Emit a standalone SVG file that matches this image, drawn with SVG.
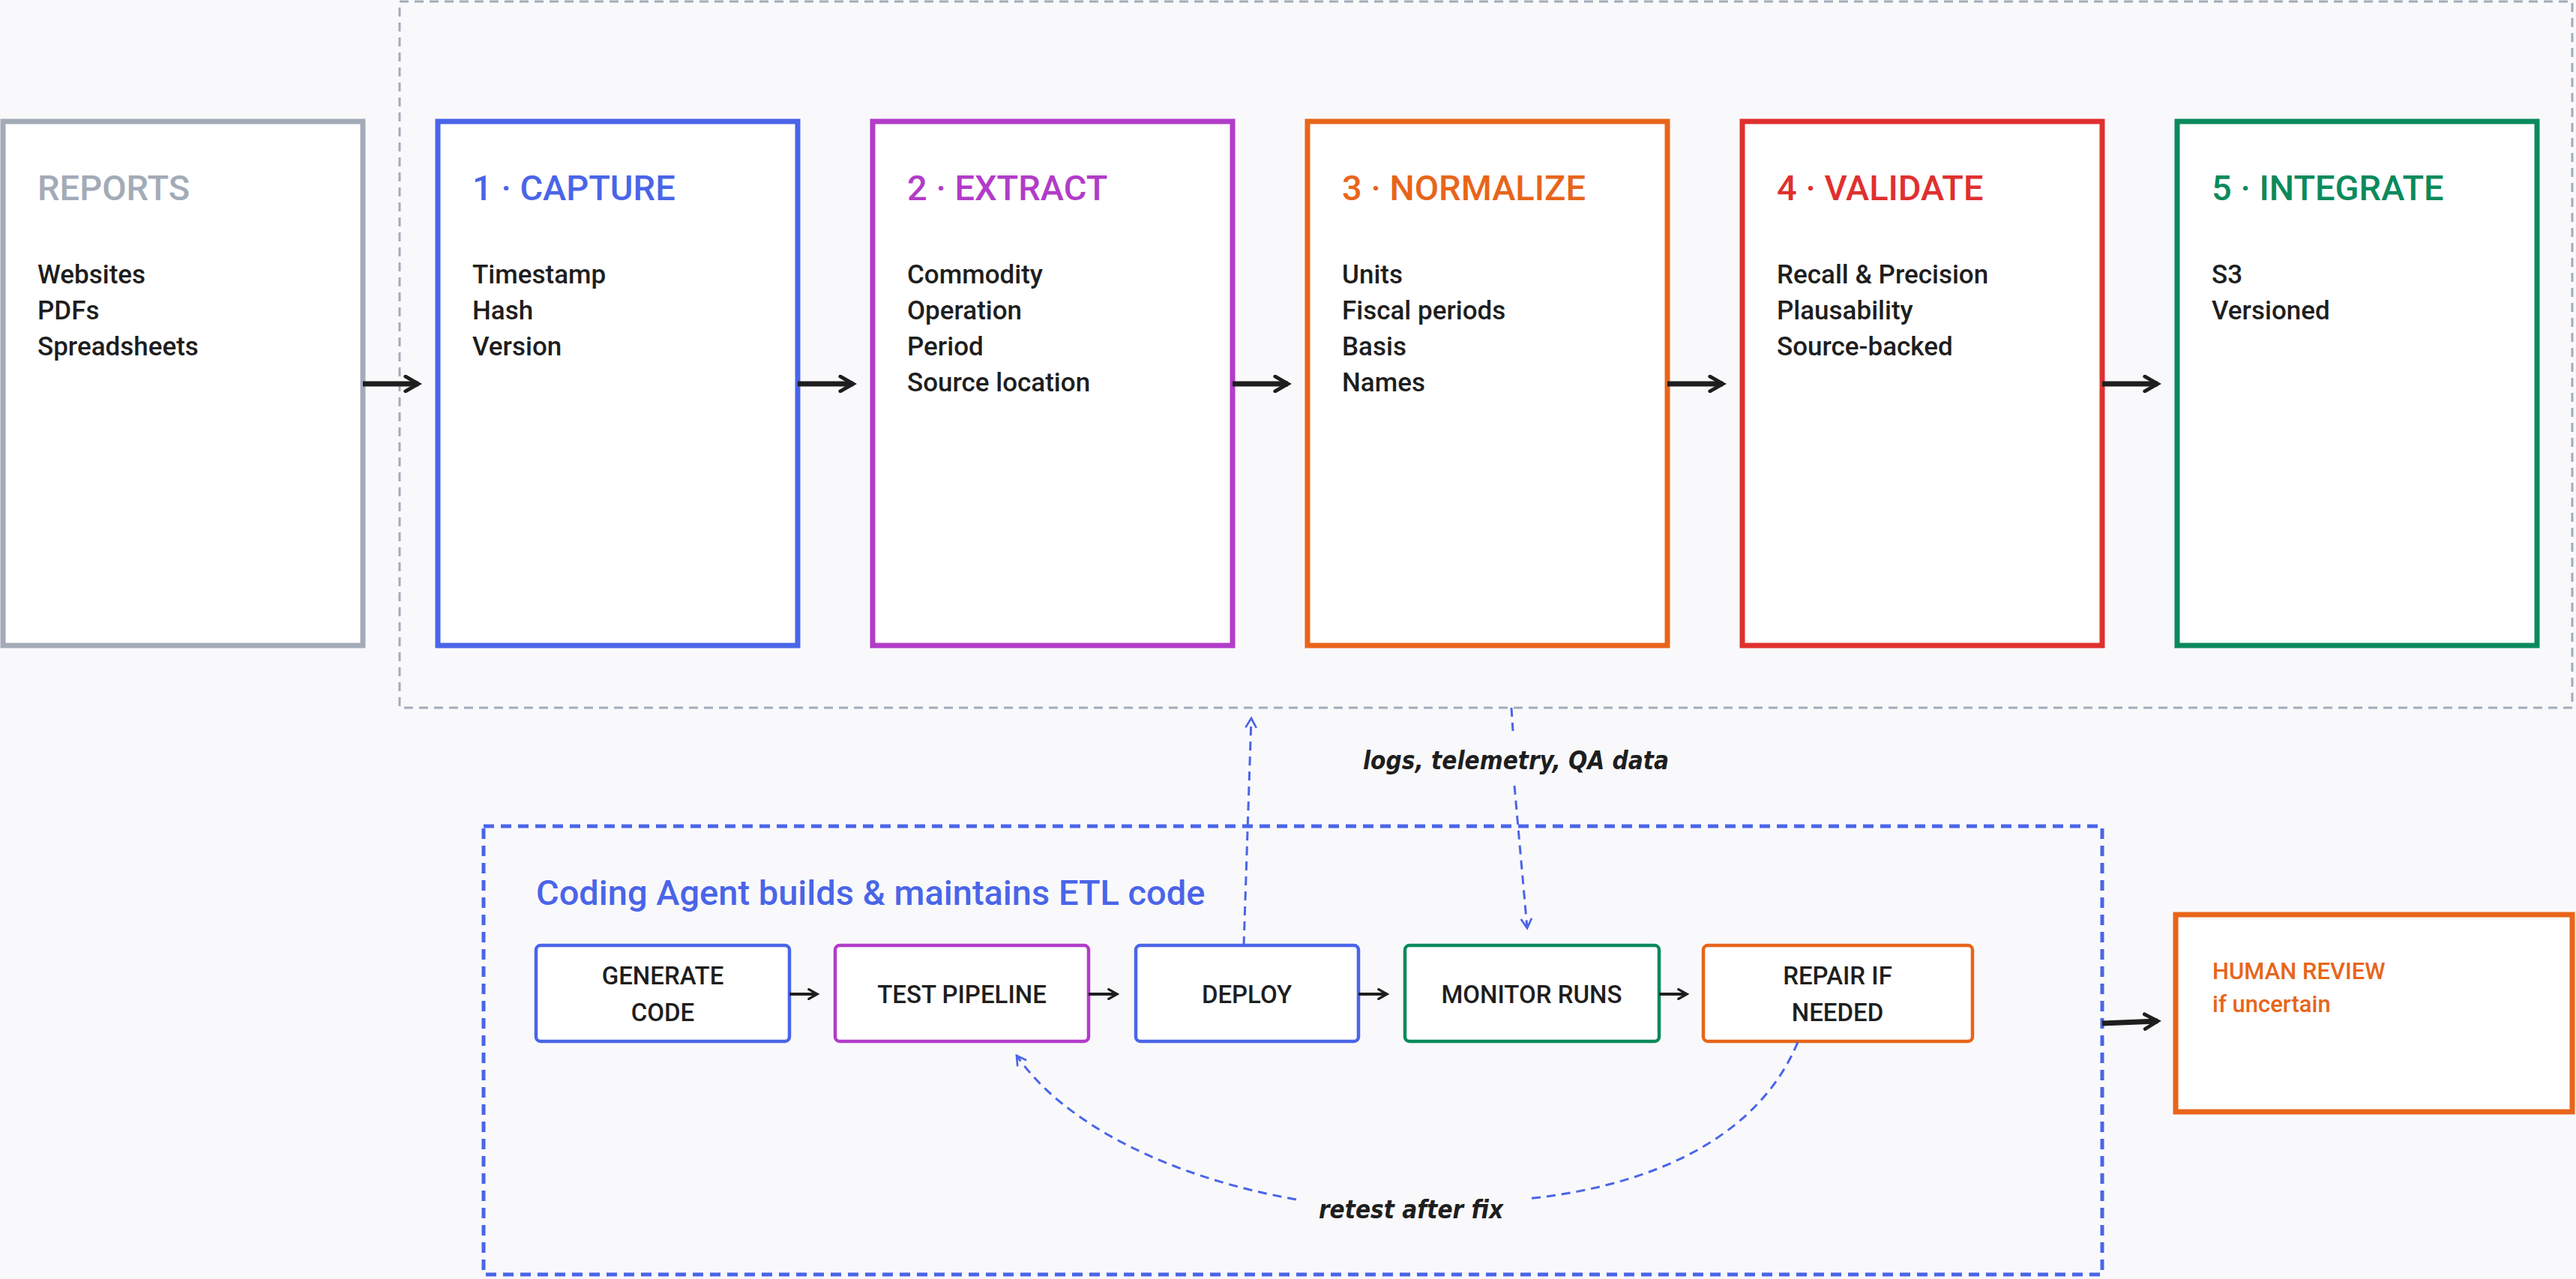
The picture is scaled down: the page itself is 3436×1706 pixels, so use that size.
<svg xmlns="http://www.w3.org/2000/svg" width="3436" height="1706" viewBox="0 0 3436 1706">
<defs>
<style>
.stage{fill:#fff;stroke-width:7}
.h{font-family:Roboto,"Liberation Sans",sans-serif;font-weight:500;font-size:47px}
.b{font-family:Roboto,"Liberation Sans",sans-serif;font-weight:500;font-size:35px;fill:#1e1e1e}
.sm{fill:#fff;stroke-width:4.5}
.st{font-family:Roboto,"Liberation Sans",sans-serif;font-weight:500;font-size:33px;fill:#1e1e1e;text-anchor:middle}
.hand{font-family:"DejaVu Sans Condensed","DejaVu Sans",sans-serif;font-weight:bold;font-style:oblique;font-size:33px;fill:#1e1e1e;text-anchor:middle}
.arr{stroke:#1e1e1e;stroke-width:7;fill:none;marker-end:url(#ah)}
.arrs{stroke:#1e1e1e;stroke-width:4;fill:none;marker-end:url(#ahs)}
.dash{stroke:#4a65e8;stroke-width:3;fill:none;stroke-dasharray:12 8;marker-end:url(#ahb)}
</style>
<marker id="ah" viewBox="0 0 10 10" refX="8" refY="5" markerWidth="3.5" markerHeight="3.5" orient="auto"><path d="M1,1 L8,5 L1,9" fill="none" stroke="#1e1e1e" stroke-width="2" stroke-linecap="round"/></marker>
<marker id="ahs" viewBox="0 0 10 10" refX="8" refY="5" markerWidth="4" markerHeight="4" orient="auto"><path d="M1,1 L8,5 L1,9" fill="none" stroke="#1e1e1e" stroke-width="2" stroke-linecap="round"/></marker>
<marker id="ahb" viewBox="0 0 10 10" refX="8" refY="5" markerWidth="6" markerHeight="6" orient="auto"><path d="M1,1 L8,5 L1,9" fill="none" stroke="#4a65e8" stroke-width="1.5"/></marker>
</defs>
<rect width="3436" height="1706" fill="#f9f9fc"/>
<rect id="pipeline" x="533" y="2" width="2898" height="942" fill="none" stroke="#a3abb8" stroke-width="3" stroke-dasharray="12 8"/>
<g id="reports"><rect class="stage" x="4" y="162" width="480" height="699" stroke="#a3abb8"/><text class="h" x="50" y="267" fill="#a3abb8">REPORTS</text><text class="b" x="50" y="378">Websites</text><text class="b" x="50" y="426">PDFs</text><text class="b" x="50" y="474">Spreadsheets</text></g>
<g id="capture"><rect class="stage" x="584" y="162" width="480" height="699" stroke="#4a65e8"/><text class="h" x="630" y="267" fill="#4a65e8">1 · CAPTURE</text><text class="b" x="630" y="378">Timestamp</text><text class="b" x="630" y="426">Hash</text><text class="b" x="630" y="474">Version</text></g>
<g id="extract"><rect class="stage" x="1164" y="162" width="480" height="699" stroke="#b23cc8"/><text class="h" x="1210" y="267" fill="#b23cc8">2 · EXTRACT</text><text class="b" x="1210" y="378">Commodity</text><text class="b" x="1210" y="426">Operation</text><text class="b" x="1210" y="474">Period</text><text class="b" x="1210" y="522">Source location</text></g>
<g id="normalize"><rect class="stage" x="1744" y="162" width="480" height="699" stroke="#e8651a"/><text class="h" x="1790" y="267" fill="#e8651a">3 · NORMALIZE</text><text class="b" x="1790" y="378">Units</text><text class="b" x="1790" y="426">Fiscal periods</text><text class="b" x="1790" y="474">Basis</text><text class="b" x="1790" y="522">Names</text></g>
<g id="validate"><rect class="stage" x="2324" y="162" width="480" height="699" stroke="#e0302f"/><text class="h" x="2370" y="267" fill="#e0302f">4 · VALIDATE</text><text class="b" x="2370" y="378">Recall &amp; Precision</text><text class="b" x="2370" y="426">Plausability</text><text class="b" x="2370" y="474">Source-backed</text></g>
<g id="integrate"><rect class="stage" x="2904" y="162" width="480" height="699" stroke="#0b8a5c"/><text class="h" x="2950" y="267" fill="#0b8a5c">5 · INTEGRATE</text><text class="b" x="2950" y="378">S3</text><text class="b" x="2950" y="426">Versioned</text></g>
<g id="agent"><rect x="645" y="1102" width="2159" height="598" fill="none" stroke="#4a65e8" stroke-width="5" stroke-dasharray="14 9"/><text class="h" x="715" y="1207" fill="#4a65e8">Coding Agent builds &amp; maintains ETL code</text></g>
<g id="generate"><rect class="sm" x="715" y="1261" width="338" height="128" rx="6" stroke="#4a65e8"/><text class="st" x="884" y="1313">GENERATE</text><text class="st" x="884" y="1362">CODE</text></g>
<g id="test"><rect class="sm" x="1114" y="1261" width="338" height="128" rx="6" stroke="#b23cc8"/><text class="st" x="1283" y="1338">TEST PIPELINE</text></g>
<g id="deploy"><rect class="sm" x="1515" y="1261" width="297" height="128" rx="6" stroke="#4a65e8"/><text class="st" x="1663" y="1338">DEPLOY</text></g>
<g id="monitor"><rect class="sm" x="1874" y="1261" width="339" height="128" rx="6" stroke="#0b8a5c"/><text class="st" x="2043" y="1338">MONITOR RUNS</text></g>
<g id="repair"><rect class="sm" x="2272" y="1261" width="359" height="128" rx="6" stroke="#e8651a"/><text class="st" x="2451" y="1313">REPAIR IF</text><text class="st" x="2451" y="1362">NEEDED</text></g>
<g id="human"><rect class="stage" x="2902" y="1220" width="529" height="263" stroke="#e8651a" stroke-width="5"/><text x="2951" y="1306" font-family="Roboto,'Liberation Sans',sans-serif" font-weight="500" font-size="31" fill="#e8651a">HUMAN REVIEW</text><text x="2951" y="1350" font-family="Roboto,'Liberation Sans',sans-serif" font-weight="500" font-size="31" fill="#e8651a">if uncertain</text></g>
<g id="connectors">
<path class="arr" d="M484,512 H558"/>
<path class="arr" d="M1064,512 H1138"/>
<path class="arr" d="M1644,512 H1718"/>
<path class="arr" d="M2224,512 H2298"/>
<path class="arr" d="M2804,512 H2878"/>
<path class="arrs" d="M1053,1326 H1090"/>
<path class="arrs" d="M1452,1326 H1490"/>
<path class="arrs" d="M1812,1326 H1850"/>
<path class="arrs" d="M2213,1326 H2250"/>
<path class="arr" d="M2804,1365 L2878,1362"/>
<path class="dash" d="M1659,1261 L1669,958"/>
<path d="M2016,944 L2018,975" stroke="#4a65e8" stroke-width="3" stroke-dasharray="12 8" fill="none"/>
<path class="dash" d="M2020,1048 L2037,1238"/>
<text class="hand" x="2022" y="1026">logs, telemetry, QA data</text>
<path d="M2398,1390 C2340,1530 2180,1585 2036,1599" stroke="#4a65e8" stroke-width="3" stroke-dasharray="12 8" fill="none"/>
<path class="dash" d="M1729,1600 C1560,1570 1420,1500 1356,1408"/>
<text class="hand" x="1882" y="1625">retest after fix</text>
</g>
</svg>
